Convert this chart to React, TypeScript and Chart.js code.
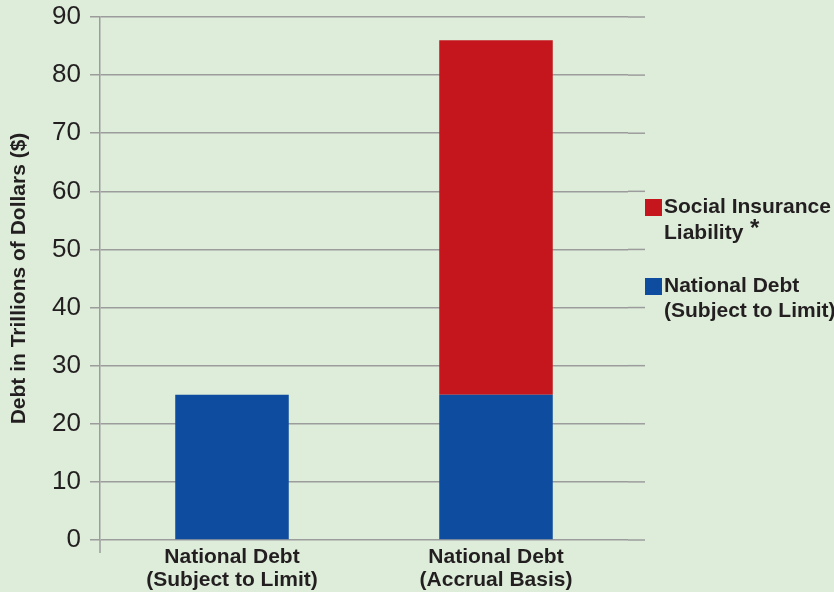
import React, { useEffect, useRef } from "react";
import { Chart, registerables } from "chart.js";

Chart.register(...registerables);

const categories: string[][] = [
  ["National Debt", "(Subject to Limit)"],
  ["National Debt", "(Accrual Basis)"],
];
const nationalDebt = [25, 25];
const socialInsurance = [0, 61];
const yMin = 0;
const yMax = 90;
const yStep = 10;
const yTitle = "Debt in Trillions of Dollars ($)";

const seriesNational = { label: ["National Debt", "(Subject to Limit)"], color: "#0D4C9F" };
const seriesSocial = { label: ["Social Insurance", "Liability"], color: "#C4161C" };

const BG = "#DDEDDA";
const GRID = "#9c9c9c";
const TEXT = "#231f20";
const FONT = "'Liberation Sans', Arial, Helvetica, sans-serif";

const extendGrid = {
  id: "extendGrid",
  beforeDatasetsDraw(chart: any) {
    const { ctx, chartArea, scales } = chart;
    const y = scales.y;
    ctx.save();
    ctx.strokeStyle = GRID;
    ctx.lineWidth = 1.5;
    y.ticks.forEach((t: any) => {
      const py = y.getPixelForValue(t.value);
      ctx.beginPath();
      ctx.moveTo(chartArea.right, py);
      ctx.lineTo(645, py);
      ctx.stroke();
    });
    ctx.beginPath();
    ctx.moveTo(chartArea.left, chartArea.bottom);
    ctx.lineTo(chartArea.left, chartArea.bottom + 13);
    ctx.stroke();
    ctx.restore();
  },
};

export default function App() {
  const ref = useRef<HTMLCanvasElement>(null);
  useEffect(() => {
    document.body.style.margin = "0";
    const chart = new Chart(ref.current!, {
      type: "bar",
      data: {
        labels: categories,
        datasets: [
          {
            label: seriesNational.label.join(" "),
            data: nationalDebt,
            backgroundColor: seriesNational.color,
            borderWidth: 0,
          },
          {
            label: seriesSocial.label.join(" "),
            data: socialInsurance,
            backgroundColor: seriesSocial.color,
            borderWidth: 0,
          },
        ],
      },
      options: {
        animation: false,
        responsive: false,
        maintainAspectRatio: false,
        layout: { padding: { top: 17, right: 206, left: 0, bottom: 0 } },
        datasets: { bar: { categoryPercentage: 1, barPercentage: 0.43 } },
        plugins: { legend: { display: false }, tooltip: { enabled: false } },
        scales: {
          x: {
            stacked: true,
            grid: { display: false, drawTicks: false },
            border: { display: false },
            ticks: {
              color: TEXT,
              font: { family: FONT, size: 21, weight: "bold", lineHeight: 1.1 },
              padding: 6,
              maxRotation: 0,
            },
            afterFit: (s: any) => {
              s.height = 52;
            },
          },
          y: {
            stacked: true,
            min: yMin,
            max: yMax,
            grid: { color: GRID, lineWidth: 1.5, tickLength: 10, drawTicks: true },
            border: { display: true, color: GRID, width: 1.5 },
            ticks: {
              stepSize: yStep,
              color: TEXT,
              font: { family: FONT, size: 26, lineHeight: 0.6 },
              padding: 9,
            },
            title: {
              display: true,
              text: yTitle,
              color: TEXT,
              font: { family: FONT, size: 21, weight: "bold", lineHeight: 1.2 },
              padding: { top: 7, bottom: 0 },
            },
            afterFit: (s: any) => {
              s.width = 100;
            },
          },
        },
      },
      plugins: [extendGrid],
    });
    return () => chart.destroy();
  }, []);

  const legendItems = [seriesSocial, seriesNational];
  const legendTops = [193, 272];

  return (
    <div style={{ position: "relative", width: 834, height: 592, background: BG, overflow: "hidden" }}>
      <canvas ref={ref} width={834} height={592} style={{ position: "absolute", left: 0, top: 0 }} />
      {legendItems.map((s, i) => (
        <div key={i} style={{ position: "absolute", left: 645, top: legendTops[i], fontFamily: FONT, fontWeight: "bold", fontSize: 21, lineHeight: "25px", color: TEXT, whiteSpace: "nowrap" }}>
          <div style={{ position: "absolute", left: 0, top: 6, width: 17, height: 17, background: s.color }} />
          <div style={{ marginLeft: 19 }}>
            {s.label.map((l, j) => (
              <div key={j}>
                {l}
                {s === seriesSocial && j === s.label.length - 1 ? <span style={{ fontSize: 24, position: "relative", top: -3 }}> *</span> : null}
              </div>
            ))}
          </div>
        </div>
      ))}
    </div>
  );
}
